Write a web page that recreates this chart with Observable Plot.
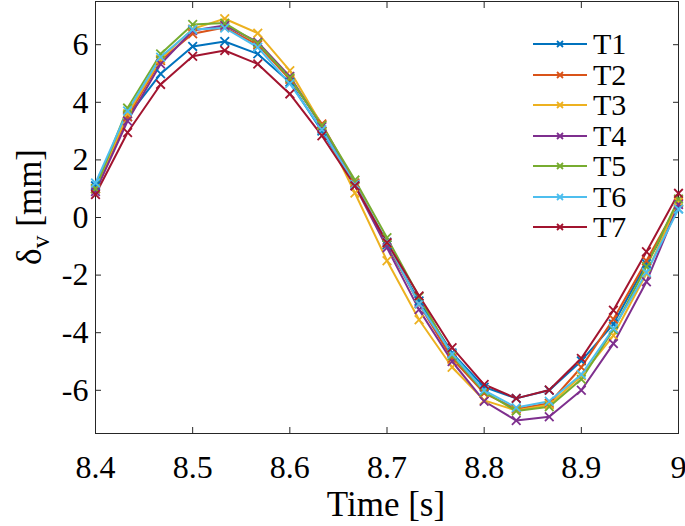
<!DOCTYPE html>
<html><head><meta charset="utf-8">
<script src="https://cdn.jsdelivr.net/npm/d3@7"></script>
<script src="https://cdn.jsdelivr.net/npm/@observablehq/plot@0.6"></script>
<style>
body{margin:0;background:#fff;}
#wrap{position:relative;width:685px;height:526px;overflow:hidden;}
#wrap svg text{font-family:"Liberation Serif",serif !important;}
#legend{position:absolute;left:530px;top:29px;font-family:"Liberation Serif",serif;font-size:30px;color:#000;}
.row{display:flex;align-items:center;height:30.5px;}
.row svg{margin-right:4px;}
</style>
</head><body><div id="wrap"><div id="legend"></div></div>
<script>
const time = [8.400, 8.433, 8.467, 8.500, 8.533, 8.567, 8.600, 8.633, 8.667, 8.700, 8.733, 8.767, 8.800, 8.833, 8.867, 8.900, 8.933, 8.967, 9.000];
const T1 = [1.10, 3.50, 4.99, 5.94, 6.11, 5.68, 4.70, 3.00, 1.15, -0.95, -2.90, -4.70, -5.89, -6.28, -6.00, -4.98, -3.70, -1.60, 0.30];
const T2 = [1.00, 3.50, 5.45, 6.38, 6.60, 6.00, 4.80, 3.25, 1.20, -0.90, -3.00, -4.90, -6.10, -6.65, -6.45, -5.20, -3.53, -1.50, 0.50];
const T3 = [1.00, 3.60, 5.50, 6.55, 6.90, 6.40, 5.10, 3.20, 0.85, -1.50, -3.55, -5.20, -6.35, -6.70, -6.50, -5.50, -4.10, -1.95, 0.55];
const T4 = [0.90, 3.35, 5.33, 6.49, 6.67, 6.09, 4.90, 3.15, 1.10, -1.05, -3.20, -5.00, -6.38, -7.05, -6.92, -6.00, -4.38, -2.23, 0.45];
const T5 = [1.00, 3.80, 5.68, 6.70, 6.75, 6.05, 4.85, 3.20, 1.30, -0.70, -2.75, -4.80, -6.05, -6.72, -6.57, -5.62, -3.90, -1.70, 0.64];
const T6 = [1.20, 3.70, 5.57, 6.53, 6.58, 5.91, 4.65, 3.05, 1.15, -0.85, -3.00, -4.74, -6.00, -6.60, -6.38, -5.45, -3.86, -1.91, 0.29];
const T7 = [0.80, 2.95, 4.62, 5.60, 5.80, 5.33, 4.29, 2.84, 1.10, -0.87, -2.72, -4.52, -5.80, -6.28, -5.99, -4.89, -3.22, -1.19, 0.84];
const seriesNames = ["T1", "T2", "T3", "T4", "T5", "T6", "T7"];
const seriesColors = ["#0072BD", "#D95319", "#EDB120", "#7E2F8E", "#77AC30", "#4DBEEE", "#A2142F"];
const xTicks = [8.4, 8.5, 8.6, 8.7, 8.8, 8.9, 9];
const yTicks = [-6, -4, -2, 0, 2, 4, 6];

const allSeries = [T1, T2, T3, T4, T5, T6, T7];
const rows = [];
allSeries.forEach((vals, i) => vals.forEach((v, j) => rows.push({series: seriesNames[i], t: time[j], v})));

const font = `"Liberation Serif",serif`;
const axisColor = "#262626";

const chart = Plot.plot({
  width: 685, height: 526,
  marginLeft: 95, marginRight: 7, marginTop: 1, marginBottom: 93,
  style: {fontFamily: font, background: "#fff", color: "#000"},
  x: {domain: [8.4, 9]},
  y: {domain: [-7.5, 7.5]},
  color: {domain: seriesNames, range: seriesColors},
  marks: [
    Plot.frame({stroke: axisColor, strokeWidth: 1}),
    Plot.axisX(xTicks, {anchor: "bottom", tickSize: -6, tickPadding: 28, fontSize: 32, stroke: axisColor, color: "#000", tickFormat: d => String(d), label: null}),
    Plot.axisX(xTicks, {anchor: "top", tickSize: -6, tickFormat: () => null, stroke: axisColor, label: null}),
    Plot.axisY(yTicks, {anchor: "left", tickSize: -6, tickPadding: 13, fontSize: 32, stroke: axisColor, color: "#000", tickFormat: d => String(d), label: null}),
    Plot.axisY(yTicks, {anchor: "right", tickSize: -6, tickFormat: () => null, stroke: axisColor, label: null}),
    Plot.line(rows, {x: "t", y: "v", z: "series", stroke: "series", strokeWidth: 2}),
    Plot.dot(rows, {x: "t", y: "v", stroke: "series", symbol: "times", r: 4, strokeWidth: 1.8})
  ]
});
document.getElementById("wrap").prepend(chart);

const svg = d3.select(chart);
svg.append("text")
  .attr("x", 386).attr("y", 516)
  .attr("text-anchor", "middle")
  .attr("font-family", font).attr("font-size", 35).attr("fill", "#000")
  .text("Time [s]");
const yl = svg.append("text")
  .attr("transform", "translate(41,207) rotate(-90)")
  .attr("text-anchor", "middle")
  .attr("font-family", font).attr("font-size", 35).attr("fill", "#000");
yl.append("tspan").text("δ");
yl.append("tspan").attr("font-size", 26).attr("dy", 8).text("v");
yl.append("tspan").attr("dy", -8).text(" [mm]");

const leg = d3.select("#legend");
seriesNames.forEach((name, i) => {
  const r = leg.append("div").attr("class", "row");
  const s = r.append("svg").attr("width", 59).attr("height", 14);
  s.append("line").attr("x1", 3).attr("x2", 57).attr("y1", 7).attr("y2", 7).attr("stroke", seriesColors[i]).attr("stroke-width", 2);
  s.append("path").attr("d", "M27,4L33,10M27,10L33,4").attr("stroke", seriesColors[i]).attr("stroke-width", 1.8);
  r.append("span").text(name);
});
</script>
</body></html>
